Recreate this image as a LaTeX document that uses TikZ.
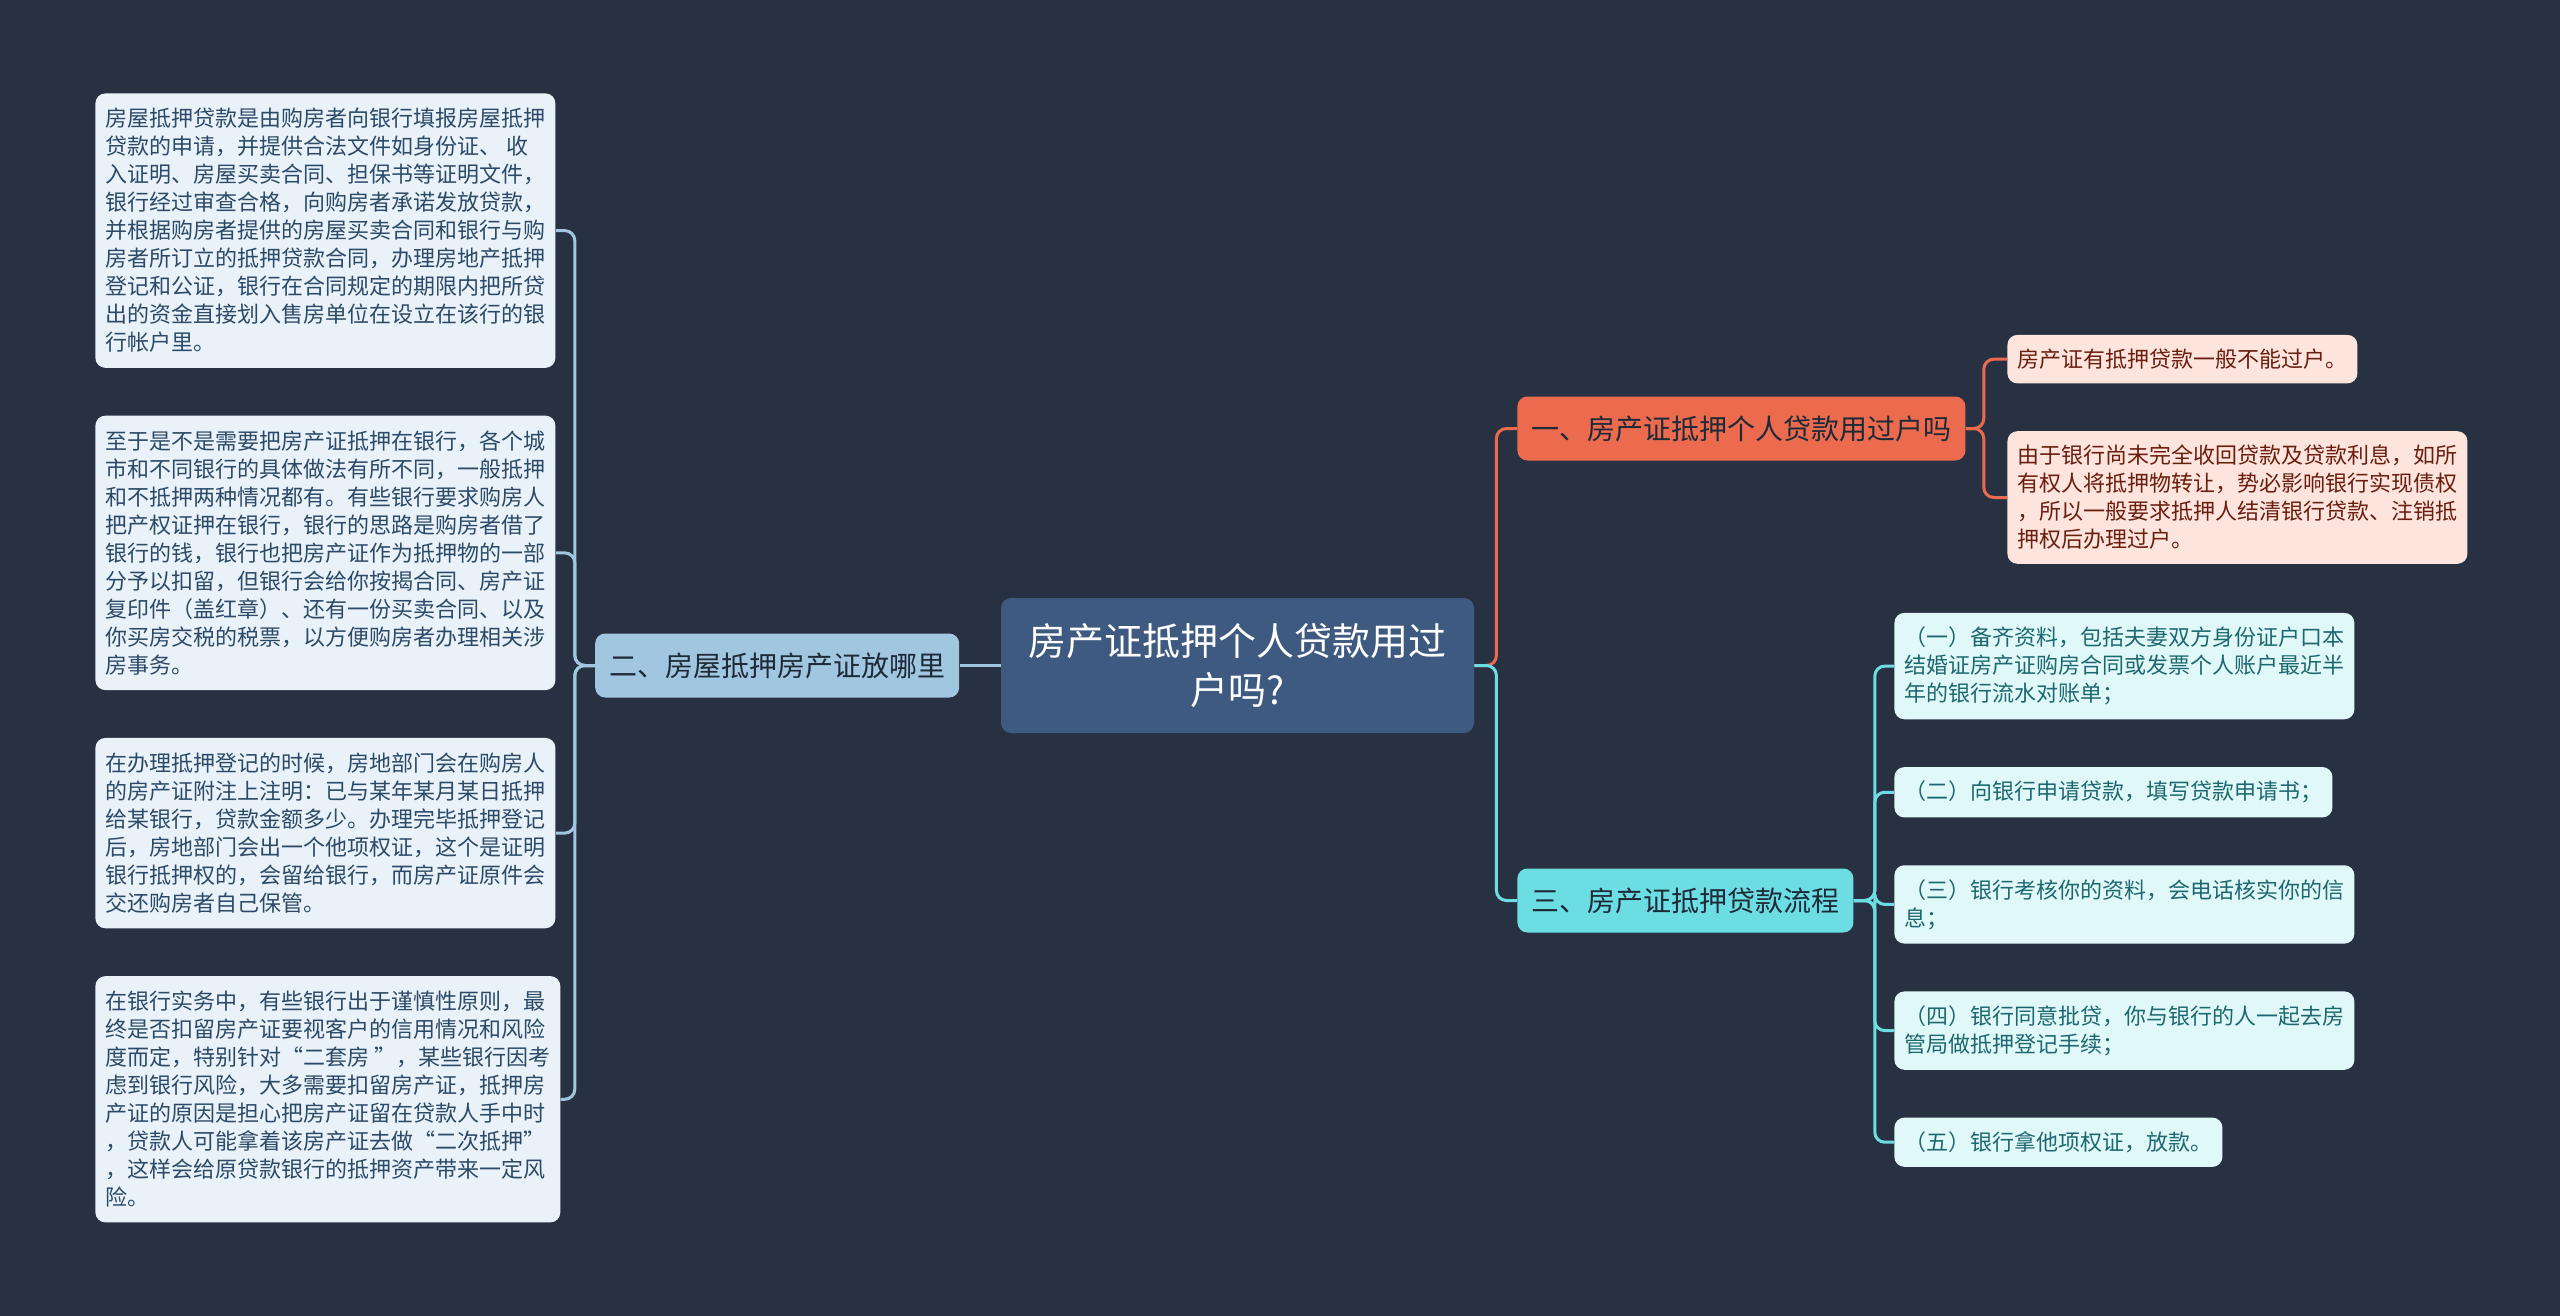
\documentclass[tikz,border=0pt]{standalone}
\usepackage{fontspec}
\setmainfont{Noto Sans CJK SC}
\usepackage{xcolor}
\definecolor{bg00}{HTML}{283142}
\definecolor{top00}{HTML}{3E5A80}
\definecolor{blu00}{HTML}{A1C6E0}
\definecolor{blu01}{HTML}{E9F2F8}
\definecolor{blu02}{HTML}{2C4A68}
\definecolor{ora00}{HTML}{EC6A4E}
\definecolor{ora01}{HTML}{FDE4DC}
\definecolor{ora02}{HTML}{6A1E10}
\definecolor{cya00}{HTML}{6CDDE3}
\definecolor{cya01}{HTML}{E0F8F8}
\definecolor{cya02}{HTML}{1D6870}
\definecolor{ink00}{HTML}{1E2A38}
\usepackage{tikz}
\usetikzlibrary{positioning}
\tikzstyle{topic} = [rectangle, minimum width=236.5pt, minimum height=67.5pt, align=center, fill=top00, text=white, font=\fontsize{19pt}{24.5pt}\selectfont]
\tikzstyle{branch_l} = [rectangle, minimum height=32pt, inner xsep=7pt, fill=blu00, text=ink00, font=\fontsize{14pt}{17pt}\selectfont]
\tikzstyle{branch_o} = [rectangle, minimum height=32pt, inner xsep=7pt, fill=ora00, text=ink00, font=\fontsize{14pt}{17pt}\selectfont]
\tikzstyle{branch_c} = [rectangle, minimum height=32pt, inner xsep=7pt, fill=cya00, text=ink00, font=\fontsize{14pt}{17pt}\selectfont]
\tikzstyle{leaf_l} = [rectangle, align=left, inner xsep=5pt, inner ysep=7.5pt, fill=blu01, text=blu02, font=\fontsize{11pt}{14pt}\selectfont]
\tikzstyle{leaf_o} = [rectangle, align=left, inner xsep=5pt, inner ysep=7pt, fill=ora01, text=ora02, font=\fontsize{11pt}{14pt}\selectfont]
\tikzstyle{leaf_c} = [rectangle, align=left, inner xsep=5pt, inner ysep=7pt, fill=cya01, text=cya02, font=\fontsize{11pt}{14pt}\selectfont]
\tikzstyle{link_l} = [line width=1.5pt, blu00]
\tikzstyle{link_o} = [line width=1.5pt, ora00]
\tikzstyle{link_c} = [line width=1.5pt, cya00]

\begin{document}
\begin{tikzpicture}[x=0.5pt, y=-0.5pt, rounded corners=5pt, node distance=23.5pt]
        \fill [bg00, sharp corners] (0,0) rectangle (2560,1316);
        \useasboundingbox (0,0) rectangle (2560,1316);
        \node (root)[topic] at (1237.5,665.5) {房产证抵押个人贷款用过\\户吗?};
        % left side
        \node (b2)[branch_l, left=20.5pt of root]{二、房屋抵押房产证放哪里};
        \node (b2a)[leaf_l, anchor=north west] at (95,93) {房屋抵押贷款是由购房者向银行填报房屋抵押\\贷款的申请，并提供合法文件如身份证、 收\\入证明、房屋买卖合同、担保书等证明文件，\\银行经过审查合格，向购房者承诺发放贷款，\\并根据购房者提供的房屋买卖合同和银行与购\\房者所订立的抵押贷款合同，办理房地产抵押\\登记和公证，银行在合同规定的期限内把所贷\\出的资金直接划入售房单位在设立在该行的银\\行帐户里。};
        \node (b2b)[leaf_l, below=of b2a.south west, anchor=north west]{至于是不是需要把房产证抵押在银行，各个城\\市和不同银行的具体做法有所不同，一般抵押\\和不抵押两种情况都有。有些银行要求购房人\\把产权证押在银行，银行的思路是购房者借了\\银行的钱，银行也把房产证作为抵押物的一部\\分予以扣留，但银行会给你按揭合同、房产证\\复印件（盖红章）、还有一份买卖合同、以及\\你买房交税的税票，以方便购房者办理相关涉\\房事务。};
        \node (b2c)[leaf_l, below=of b2b.south west, anchor=north west]{在办理抵押登记的时候，房地部门会在购房人\\的房产证附注上注明：已与某年某月某日抵押\\给某银行，贷款金额多少。办理完毕抵押登记\\后，房地部门会出一个他项权证，这个是证明\\银行抵押权的，会留给银行，而房产证原件会\\交还购房者自己保管。};
        \node (b2d)[leaf_l, below=of b2c.south west, anchor=north west]{在银行实务中，有些银行出于谨慎性原则，最\\终是否扣留房产证要视客户的信用情况和风险\\度而定，特别针对“二套房 ”，某些银行因考\\虑到银行风险，大多需要扣留房产证，抵押房\\产证的原因是担心把房产证留在贷款人手中时\\，贷款人可能拿着该房产证去做“二次抵押”\\，这样会给原贷款银行的抵押资产带来一定风\\险。};
        \draw [link_l] (root.west) -- (b2.east);
        \draw [link_l] (b2.west) -- ++(-10pt,0) |- (b2a.east);
        \draw [link_l] (b2.west) -- ++(-10pt,0) |- (b2b.east);
        \draw [link_l] (b2.west) -- ++(-10pt,0) |- (b2c.east);
        \draw [link_l] (b2.west) -- ++(-10pt,0) |- (b2d.east);
        % right side, upper branch
        \node (b1)[branch_o, anchor=west] at (1517,428.5) {一、房产证抵押个人贷款用过户吗};
        \node (b1a)[leaf_o, anchor=north west] at (2007,334.5) {房产证有抵押贷款一般不能过户。};
        \node (b1b)[leaf_o, below=of b1a.south west, anchor=north west]{由于银行尚未完全收回贷款及贷款利息，如所\\有权人将抵押物转让，势必影响银行实现债权\\，所以一般要求抵押人结清银行贷款、注销抵\\押权后办理过户。};
        \draw [link_o] (root.east) -- ++(11pt,0) |- (b1.west);
        \draw [link_o] (b1.east) -- ++(9pt,0) |- (b1a.west);
        \draw [link_o] (b1.east) -- ++(9pt,0) |- (b1b.west);
        % right side, lower branch
        \node (b3)[branch_c, anchor=west] at (1517,900.5) {三、房产证抵押贷款流程};
        \node (b3a)[leaf_c, anchor=north west] at (1894,612.5) {（一）备齐资料，包括夫妻双方身份证户口本\\结婚证房产证购房合同或发票个人账户最近半\\年的银行流水对账单；};
        \node (b3b)[leaf_c, below=of b3a.south west, anchor=north west]{（二）向银行申请贷款，填写贷款申请书；};
        \node (b3c)[leaf_c, below=of b3b.south west, anchor=north west]{（三）银行考核你的资料，会电话核实你的信\\息；};
        \node (b3d)[leaf_c, below=of b3c.south west, anchor=north west]{（四）银行同意批贷，你与银行的人一起去房\\管局做抵押登记手续；};
        \node (b3e)[leaf_c, below=of b3d.south west, anchor=north west]{（五）银行拿他项权证，放款。};
        \draw [link_c] (root.east) -- ++(11pt,0) |- (b3.west);
        \draw [link_c] (b3.east) -- ++(10.5pt,0) |- (b3a.west);
        \draw [link_c] (b3.east) -- ++(10.5pt,0) |- (b3b.west);
        \draw [link_c] (b3.east) -- ++(10.5pt,0) |- (b3c.west);
        \draw [link_c] (b3.east) -- ++(10.5pt,0) |- (b3d.west);
        \draw [link_c] (b3.east) -- ++(10.5pt,0) |- (b3e.west);
    \end{tikzpicture}
\end{document}
